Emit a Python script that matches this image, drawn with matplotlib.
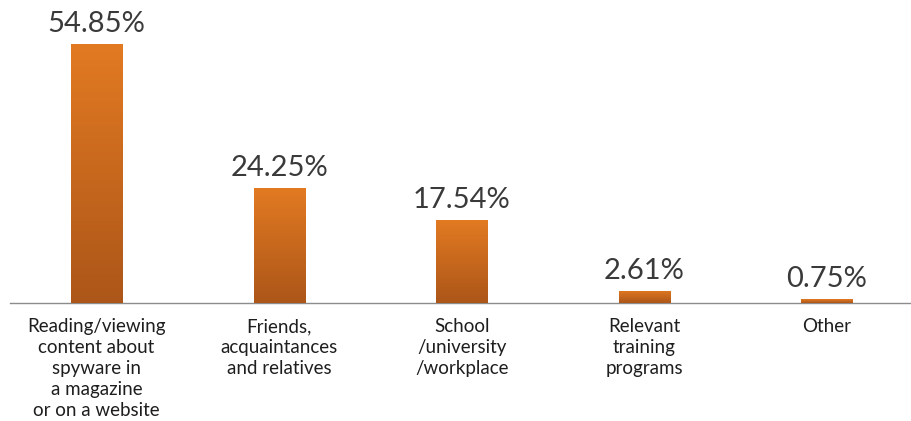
import matplotlib.pyplot as plt
import numpy as np
from matplotlib.colors import LinearSegmentedColormap

categories = ["Reading/viewing\ncontent about\nspyware in\na magazine\nor on a website",
              "Friends,\nacquaintances\nand relatives",
              "School\n/university\n/workplace",
              "Relevant\ntraining\nprograms",
              "Other"]
shares = [54.85, 24.25, 17.54, 2.61, 0.75]
value_labels = ["54.85%", "24.25%", "17.54%", "2.61%", "0.75%"]

plt.rcParams['font.family'] = ['Lato', 'DejaVu Sans']

fig = plt.figure(figsize=(9.11, 4.21), dpi=100)
ax = fig.add_axes([0.011, 0.2803, 0.989, 0.7197])

x = np.arange(len(shares))
bars = ax.bar(x, shares, width=0.28, color="#C8661C", zorder=2)

# each bar gets its own vertical gradient, lighter at the top
grad = LinearSegmentedColormap.from_list("bar", ["#AC5619", "#E27A22"])
ymax = 64.17
for b, v in zip(bars, shares):
    img = ax.imshow(np.linspace(0, 1, 256).reshape(-1, 1), cmap=grad,
                    origin="lower", aspect="auto", zorder=3,
                    extent=[b.get_x(), b.get_x() + b.get_width(), 0, v])
    img.set_clip_path(b)

for xi, v, lab in zip(x, shares, value_labels):
    ax.text(xi, v + 1.5, lab, ha="center", va="bottom", fontsize=21, color="#3a3a3a")

ax.set_xlim(-0.474, 4.46)
ax.set_ylim(0, ymax)
ax.set_xticks(x)
ax.set_xticklabels(categories, fontsize=13.5, color="#1e1e1e", linespacing=1.28)
ax.tick_params(axis="x", length=0, pad=11)
ax.set_yticks([])
for s in ["top", "right", "left"]:
    ax.spines[s].set_visible(False)
ax.spines["bottom"].set_color("#8c8c8c")
ax.spines["bottom"].set_linewidth(1.0)

fig.savefig("out.png", dpi=100)
